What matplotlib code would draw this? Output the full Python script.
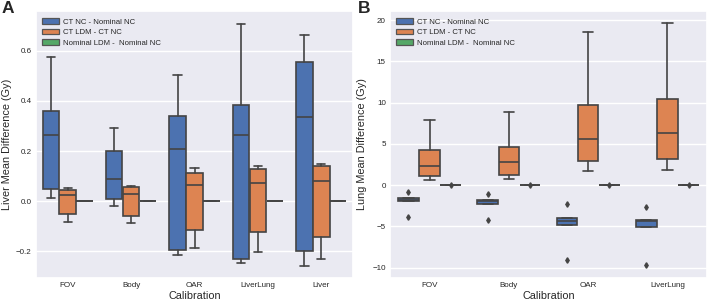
import matplotlib
matplotlib.use("Agg")
import matplotlib.pyplot as plt
from matplotlib.patches import Patch
import seaborn as sns

sns.set_theme(style="darkgrid")
plt.rcParams['font.family'] = ['Liberation Sans', 'DejaVu Sans']

series = ["CT NC - Nominal NC", "CT LDM - CT NC", "Nominal LDM -  Nominal NC"]
colors = ["#4c72b0", "#dd8452", "#55a868"]

# Panel A: Liver
cats_liver = ["FOV", "Body", "OAR", "LiverLung", "Liver"]
liver_ctnc_lo = [0.013, -0.020, -0.217, -0.247, -0.259]
liver_ctnc_q1 = [0.048, 0.007, -0.195, -0.233, -0.201]
liver_ctnc_med = [0.263, 0.088, 0.209, 0.263, 0.337]
liver_ctnc_q3 = [0.361, 0.201, 0.339, 0.383, 0.556]
liver_ctnc_hi = [0.577, 0.293, 0.503, 0.709, 0.663]

liver_ldm_lo = [-0.083, -0.088, -0.188, -0.203, -0.231]
liver_ldm_q1 = [-0.051, -0.059, -0.117, -0.125, -0.143]
liver_ldm_med = [0.024, 0.027, 0.065, 0.072, 0.081]
liver_ldm_q3 = [0.044, 0.055, 0.112, 0.127, 0.139]
liver_ldm_hi = [0.053, 0.061, 0.131, 0.141, 0.149]

liver_nom = [0.0, 0.0, 0.0, 0.0, 0.0]

# Panel B: Lung
cats_lung = ["FOV", "Body", "OAR", "LiverLung"]
lung_ctnc_q1 = [-1.90, -2.26, -4.77, -5.02]
lung_ctnc_med = [-1.74, -1.94, -4.32, -4.30]
lung_ctnc_q3 = [-1.60, -1.78, -4.04, -4.25]
lung_ctnc_fliers = [[-0.89, -3.88], [-1.05, -4.24], [-2.34, -9.05], [-2.63, -9.70]]

lung_ldm_lo = [0.65, 0.77, 1.70, 1.86]
lung_ldm_q1 = [1.05, 1.20, 2.87, 3.19]
lung_ldm_med = [2.30, 2.75, 5.60, 6.34]
lung_ldm_q3 = [4.20, 4.60, 9.66, 10.46]
lung_ldm_hi = [7.88, 8.90, 18.60, 19.60]

lung_nom = [0.0, 0.0, 0.0, 0.0]
lung_nom_fliers = [[0.0], [0.0], [0.0], [0.0]]

EDGE = "#444444"
W = 0.8 / 3


def stats_list(lo, q1, med, q3, hi, fliers=None):
    out = []
    for i in range(len(med)):
        out.append(dict(whislo=lo[i], q1=q1[i], med=med[i], q3=q3[i],
                        whishi=hi[i],
                        fliers=(fliers[i] if fliers else [])))
    return out


def draw(ax, cats, groups):
    for j, (st, col) in enumerate(zip(groups, colors)):
        pos = [i - 0.8 / 2 + W * (j + 0.5) for i in range(len(cats))]
        ax.bxp(st, positions=pos, widths=W * 0.98, patch_artist=True,
               showfliers=True, manage_ticks=False,
               boxprops=dict(facecolor=col, edgecolor=EDGE, linewidth=1.2),
               medianprops=dict(color=EDGE, linewidth=1.2),
               whiskerprops=dict(color=EDGE, linewidth=1.2),
               capprops=dict(color=EDGE, linewidth=1.2),
               flierprops=dict(marker="d", markersize=2.8, markerfacecolor=EDGE,
                               markeredgecolor=EDGE, linestyle="none"))
    ax.set_xticks(range(len(cats)))
    ax.set_xticklabels(cats)
    ax.set_xlim(-0.5, len(cats) - 0.5)
    ax.xaxis.grid(False)
    ax.tick_params(labelsize=5.8, length=0, pad=3)
    ax.set_xlabel("Calibration", fontsize=7.8, labelpad=1)
    handles = [Patch(facecolor=c, edgecolor="#555555", linewidth=0.9) for c in colors]
    ax.legend(handles, series, loc="upper left", frameon=False, fontsize=5.6,
              handlelength=2.1, handleheight=0.7, handletextpad=0.5,
              labelspacing=0.38, borderaxespad=0.0, borderpad=0.4,
              bbox_to_anchor=(0.01, 0.984))


fig = plt.figure(figsize=(7.07, 3.04), dpi=100)
axA = fig.add_axes([36 / 707, 26 / 304, (353 - 36) / 707, (304 - 11 - 26) / 304])
axB = fig.add_axes([390 / 707, 26 / 304, (707 - 390) / 707, (304 - 11 - 26) / 304])

draw(axA, cats_liver, [
    stats_list(liver_ctnc_lo, liver_ctnc_q1, liver_ctnc_med, liver_ctnc_q3, liver_ctnc_hi),
    stats_list(liver_ldm_lo, liver_ldm_q1, liver_ldm_med, liver_ldm_q3, liver_ldm_hi),
    stats_list(liver_nom, liver_nom, liver_nom, liver_nom, liver_nom),
])
axA.set_ylim(-0.307, 0.759)
axA.set_yticks([-0.2, 0.0, 0.2, 0.4, 0.6])
axA.set_yticklabels(["\u22120.2", "0.0", "0.2", "0.4", "0.6"])
axA.set_ylabel("Liver Mean Difference (Gy)", fontsize=7.8, labelpad=3)

draw(axB, cats_lung, [
    stats_list(lung_ctnc_q1, lung_ctnc_q1, lung_ctnc_med, lung_ctnc_q3, lung_ctnc_q3, lung_ctnc_fliers),
    stats_list(lung_ldm_lo, lung_ldm_q1, lung_ldm_med, lung_ldm_q3, lung_ldm_hi),
    stats_list(lung_nom, lung_nom, lung_nom, lung_nom, lung_nom, lung_nom_fliers),
])
axB.set_ylim(-11.25, 21.1)
axB.set_yticks([-10, -5, 0, 5, 10, 15, 20])
axB.set_yticklabels(["\u221210", "\u22125", "0", "5", "10", "15", "20"])
axB.set_ylabel("Lung Mean Difference (Gy)", fontsize=7.8, labelpad=4)

fig.text(2 / 707, 1 - 1 / 304, "A", fontsize=12.5, fontweight="bold", va="top", ha="left")
fig.text(358 / 707, 1 - 1 / 304, "B", fontsize=12.5, fontweight="bold", va="top", ha="left")

fig.savefig("out.png", dpi=100)
